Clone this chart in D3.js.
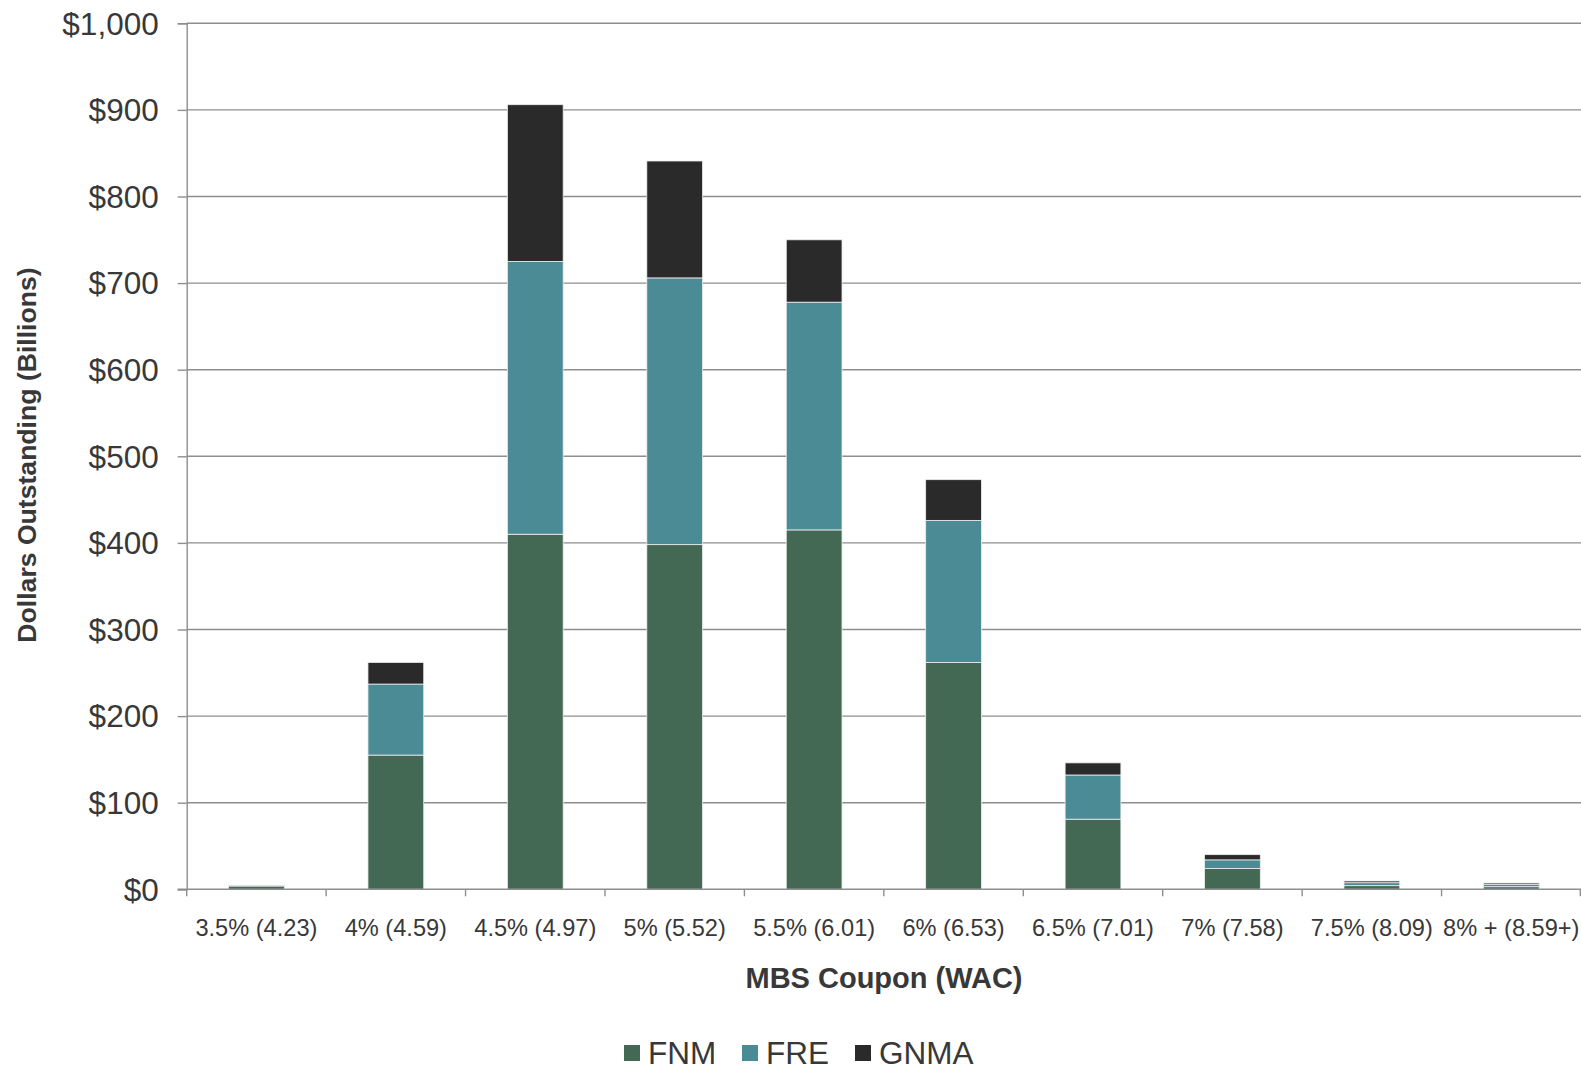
<!DOCTYPE html>
<html>
<head>
<meta charset="utf-8">
<script src="https://cdn.jsdelivr.net/npm/d3@7"></script>
<style>
  html, body { margin: 0; padding: 0; background: #fff; }
  svg { display: block; font-family: "Liberation Sans", Arial, Helvetica, sans-serif; }
</style>
</head>
<body>
<svg id="chart" width="1581" height="1067"></svg>
<script>
// MBS coupon buckets (weighted-average coupon in parentheses)
const categories = ["3.5% (4.23)", "4% (4.59)", "4.5% (4.97)", "5% (5.52)", "5.5% (6.01)",
                    "6% (6.53)", "6.5% (7.01)", "7% (7.58)", "7.5% (8.09)", "8% + (8.59+)"];
// Dollars outstanding, billions
const fnm  = [3.8, 155, 410, 398, 415, 262, 81, 24, 4.2, 3.0];
const fre  = [0.5, 82, 315, 308, 263, 164, 51, 10, 3.4, 2.8];
const gnma = [0.3, 25, 181, 135, 72, 47, 14, 6, 2.0, 1.5];
const seriesNames = ["FNM", "FRE", "GNMA"];
const yTicks = [0, 100, 200, 300, 400, 500, 600, 700, 800, 900, 1000];

const colors = { FNM: "#436853", FRE: "#4b8b96", GNMA: "#2a2a2a" };
const textColor = "#383838";
const gridColor = "#8e8e8e";

const rows = categories.map((c, i) => ({ cat: c, FNM: fnm[i], FRE: fre[i], GNMA: gnma[i] }));
const stacked = d3.stack().keys(seriesNames)(rows);

const svg = d3.select("#chart");
const m = { left: 186.7, right: 1581, top: 23.3, bottom: 889.3 };

const x = d3.scaleBand().domain(categories).range([m.left, m.right]).paddingInner(0.6).paddingOuter(0.3);
const xb = d3.scaleBand().domain(categories).range([m.left, m.right]);
const y = d3.scaleLinear().domain([0, 1000]).range([m.bottom, m.top]);

// horizontal gridlines
svg.append("g").selectAll("line").data(yTicks.filter(t => t > 0)).join("line")
  .attr("x1", m.left).attr("x2", m.right)
  .attr("y1", d => y(d)).attr("y2", d => y(d))
  .attr("stroke", gridColor).attr("stroke-width", 1.4);

// stacked bars
svg.append("g").selectAll("g").data(stacked).join("g")
  .attr("fill", d => colors[d.key])
  .selectAll("rect").data(d => d).join("rect")
  .attr("x", d => x(d.data.cat))
  .attr("width", x.bandwidth())
  .attr("y", d => y(d[1]))
  .attr("height", d => Math.max(0, y(d[0]) - y(d[1])))
  .attr("stroke", "#eeeeee").attr("stroke-width", 0.8);

// y axis
const yAxis = svg.append("g").attr("transform", `translate(${m.left},0)`)
  .call(d3.axisLeft(y).tickValues(yTicks).tickSize(9).tickPadding(19)
    .tickFormat(d => "$" + d3.format(",")(d)));
yAxis.select(".domain").attr("stroke", gridColor).attr("stroke-width", 1.4);
yAxis.selectAll(".tick line").attr("stroke", gridColor).attr("stroke-width", 1.4);
yAxis.selectAll("text").attr("fill", textColor).style("font-size", "31.5px").attr("dy", "0.34em");

// x axis with ticks on category boundaries
const xAxisG = svg.append("g");
xAxisG.append("line").attr("x1", m.left - 9).attr("x2", m.right)
  .attr("y1", m.bottom).attr("y2", m.bottom)
  .attr("stroke", gridColor).attr("stroke-width", 1.4);
xAxisG.selectAll("line.tk").data(categories).join("line").attr("class", "tk")
  .attr("x1", d => xb(d)).attr("x2", d => xb(d))
  .attr("y1", m.bottom).attr("y2", m.bottom + 7)
  .attr("stroke", gridColor).attr("stroke-width", 1.4);
xAxisG.append("line").attr("x1", m.right - 0.7).attr("x2", m.right - 0.7)
  .attr("y1", m.bottom).attr("y2", m.bottom + 7)
  .attr("stroke", gridColor).attr("stroke-width", 1.4);
xAxisG.selectAll("text").data(categories).join("text")
  .attr("x", d => xb(d) + xb.bandwidth() / 2)
  .attr("y", 928).attr("dy", "0.35em")
  .attr("text-anchor", "middle").attr("fill", textColor)
  .style("font-size", "23.6px").text(d => d);

// axis titles
svg.append("text").attr("x", 884).attr("y", 978).attr("dy", "0.35em")
  .attr("text-anchor", "middle").attr("fill", textColor)
  .style("font-size", "29px").style("font-weight", "bold").text("MBS Coupon (WAC)");
svg.append("text").attr("transform", "translate(27,455) rotate(-90)").attr("dy", "0.35em")
  .attr("text-anchor", "middle").attr("fill", textColor)
  .style("font-size", "26.6px").style("font-weight", "bold").text("Dollars Outstanding (Billions)");

// legend
const legendX = [624, 742, 855];
const lg = svg.append("g").selectAll("g").data(seriesNames).join("g")
  .attr("transform", (d, i) => `translate(${legendX[i]},1045)`);
lg.append("rect").attr("width", 16).attr("height", 16).attr("fill", d => colors[d]);
lg.append("text").attr("x", 24).attr("y", 8).attr("dy", "0.36em")
  .attr("fill", textColor).style("font-size", "31.5px").text(d => d);
</script>
</body>
</html>
